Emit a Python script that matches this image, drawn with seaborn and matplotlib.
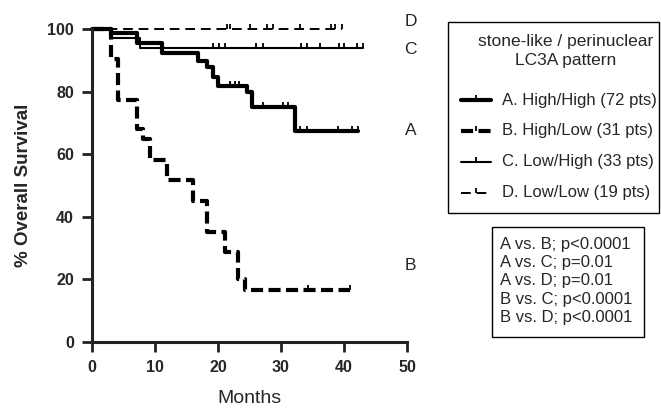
import matplotlib
matplotlib.use('Agg')
import matplotlib.pyplot as plt
from matplotlib.lines import Line2D
from matplotlib.patches import Rectangle
import numpy as np
import pandas as pd
import seaborn as sns

# Kaplan-Meier steps (months, % survival)
a_months = [0, 3.0, 7.2, 11.1, 16.8, 18.2, 19.2, 20.0, 24.6, 25.4, 32.2, 42.2]
a_surv = [100, 98.6, 95.5, 92.3, 89.8, 88.0, 84.8, 81.9, 79.8, 75.0, 67.5, 67.5]
a_cens = [21.9, 22.7, 23.4, 27.1, 30.3, 31.1, 33.0, 34.1, 39.0, 41.3, 42.2]

b_months = [0, 3.0, 4.1, 7.1, 8.1, 9.2, 11.9, 16.0, 18.2, 21.1, 23.2, 24.3, 41.0]
b_surv = [100, 90.3, 77.4, 68.0, 64.8, 58.3, 51.8, 44.9, 35.3, 28.8, 20.2, 16.5, 16.5]
b_cens = [34.3, 41.0]

c_months = [0, 3.0, 7.6, 43.0]
c_surv = [100, 97.0, 93.9, 93.9]
c_cens = [19.2, 20.2, 21.1, 26.0, 27.1, 33.2, 34.1, 36.2, 39.2, 40.0, 42.0, 43.0]

d_months = [0, 39.7]
d_surv = [100, 100]
d_cens = [21.4, 21.9, 25.0, 27.8, 28.7, 33.0, 38.0, 38.6, 39.7]

group_keys = ['A', 'B', 'C', 'D']
group_labels = ['A. High/High (72 pts)', 'B. High/Low (31 pts)',
                'C. Low/High (33 pts)', 'D. Low/Low (19 pts)']
legend_title = 'stone-like / perinuclear\nLC3A pattern'
pvalue_lines = ['A vs. B; p<0.0001', 'A vs. C; p=0.01', 'A vs. D; p=0.01',
                'B vs. C; p<0.0001', 'B vs. D; p<0.0001']

curves = {
    'A': (a_months, a_surv, a_cens),
    'B': (b_months, b_surv, b_cens),
    'C': (c_months, c_surv, c_cens),
    'D': (d_months, d_surv, d_cens),
}
styles = {
    'A': dict(lw=3.0, ls='-'),
    'B': dict(lw=3.0, ls=(0, (2.9, 1.3))),
    'C': dict(lw=1.5, ls='-'),
    'D': dict(lw=1.4, ls=(0, (5, 3))),
}
end_label_y = {'A': 67.5, 'B': 24.5, 'C': 93.5, 'D': 102.5}

W, H = 661, 409


def step_value(months, surv, t):
    idx = np.searchsorted(months, t, side='right') - 1
    return surv[max(idx, 0)]


def fx(px):
    return px / W


def fy(py):
    return 1 - py / H


sns.set_style('ticks')
plt.rcParams['font.family'] = ['Liberation Sans', 'DejaVu Sans']

fig = plt.figure(figsize=(W / 100, H / 100), dpi=100)
ax = fig.add_axes([fx(92), fy(342), fx(407) - fx(92), fy(29) - fy(342)])

censor_marker = [(0, 0), (0, 1)]
for key in group_keys:
    months, surv, cens = curves[key]
    df = pd.DataFrame({'months': months, 'surv': surv})
    sns.lineplot(data=df, x='months', y='surv', ax=ax, estimator=None,
                 sort=False, drawstyle='steps-post', color='black',
                 linewidth=styles[key]['lw'], linestyle=styles[key]['ls'],
                 clip_on=False)
    cy = [step_value(months, surv, t) for t in cens]
    ax.plot(cens, cy, linestyle='none', marker=censor_marker,
            markersize=7, markeredgewidth=1.3, color='black', clip_on=False)
    ax.text(50.6, end_label_y[key], key, fontsize=12.5, ha='center',
            va='center', clip_on=False)

ax.set_xlim(0, 50)
ax.set_ylim(0, 100)
ax.set_xticks([0, 10, 20, 30, 40, 50])
ax.set_yticks([0, 20, 40, 60, 80, 100])
ax.set_xlabel('Months', fontsize=14, labelpad=11)
ax.set_ylabel('% Overall Survival', fontsize=13.5, fontweight='bold',
              labelpad=11)
for lbl in ax.get_xticklabels() + ax.get_yticklabels():
    lbl.set_fontweight('bold')
ax.tick_params(axis='both', direction='out', length=7, width=2.0,
               labelsize=11.5, color='#222222', pad=6)
for side in ['left', 'bottom']:
    ax.spines[side].set_linewidth(2.2)
    ax.spines[side].set_color('#222222')
sns.despine(ax=ax)

# legend box drawn by hand so spacing matches the original layout
fig.add_artist(Rectangle((fx(448), fy(213)), fx(659) - fx(448),
                         fy(22) - fy(213), transform=fig.transFigure,
                         facecolor='white', edgecolor='black', linewidth=1.0))
fig.text(fx(566), fy(51), legend_title, fontsize=12.5, ha='center',
         va='center', linespacing=1.3, multialignment='center')
for i, key in enumerate(group_keys):
    y = fy(100 + 31 * i)
    fig.add_artist(Line2D([fx(461), fx(491)], [y, y], transform=fig.transFigure,
                          color='black', lw=styles[key]['lw'],
                          linestyle=styles[key]['ls']))
    fig.add_artist(Line2D([fx(476)], [y], transform=fig.transFigure,
                          color='black', linestyle='none',
                          marker=censor_marker, markersize=7,
                          markeredgewidth=1.3))
    fig.text(fx(502), y, group_labels[i], fontsize=12, ha='left',
             va='center')

# p-value box
fig.add_artist(Rectangle((fx(492), fy(337)), fx(644) - fx(492),
                         fy(227) - fy(337), transform=fig.transFigure,
                         facecolor='white', edgecolor='black', linewidth=1.0))
fig.text(fx(500), fy(281), '\n'.join(pvalue_lines), fontsize=12,
         ha='left', va='center', linespacing=1.28)

fig.savefig('out.png', dpi=100)
